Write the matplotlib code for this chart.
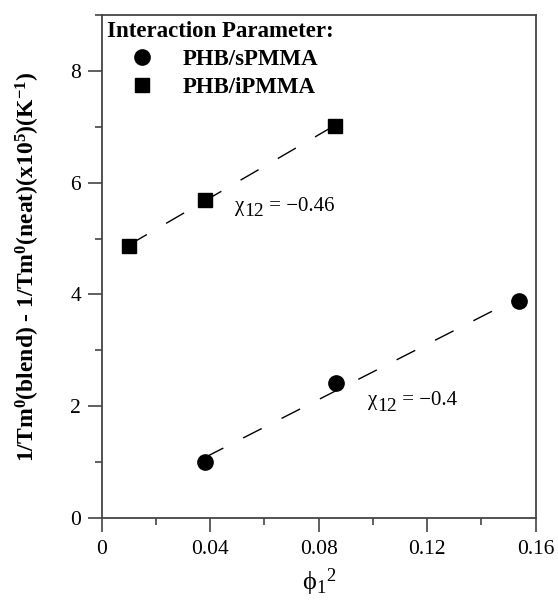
import numpy as np
import matplotlib
matplotlib.use("Agg")
import matplotlib.pyplot as plt
from matplotlib.ticker import MultipleLocator

plt.rcParams['font.family'] = ['Liberation Serif', 'DejaVu Serif']
plt.rcParams['mathtext.default'] = 'regular'

# phi_1^2 and melting point depression (x10^5 K^-1)
phi_s = [0.038, 0.0864, 0.154]
dT_s = [1.00, 2.42, 3.89]
phi_i = [0.010, 0.038, 0.086]
dT_i = [4.875, 5.69, 7.02]
chi_s_value = "−0.4"
chi_i_value = "−0.46"
x_ticks = [0, 0.04, 0.08, 0.12, 0.16]
x_tick_labels = ['0', '0.04', '0.08', '0.12', '0.16']
y_ticks = [0, 2, 4, 6, 8]

fig = plt.figure(figsize=(5.58, 6.01), dpi=100)
ax = fig.add_axes([0.1823, 0.1381, 0.7777, 0.8369])

ax.plot(phi_s, dT_s, 'o', color='black', ms=11, label='PHB/sPMMA', zorder=3)
ax.plot(phi_i, dT_i, 's', color='black', ms=10.5, label='PHB/iPMMA', zorder=3)

# linear fits for each blend
dash = (0, (15, 16))
for xs, ys in ((phi_s, dT_s), (phi_i, dT_i)):
    k, b = np.polyfit(xs, ys, 1)
    xx = np.array([min(xs), max(xs)])
    ax.plot(xx, k * xx + b, color='black', lw=1.0, linestyle=dash, zorder=2)


def chi_label(x, y, value, size=15):
    """Write 'chi12 = value' with a full-height, lowered subscript."""
    t1 = ax.text(x, y, "χ", fontsize=size, ha='left', va='baseline')
    t2 = ax.annotate("12", xy=(1, 0), xycoords=t1, xytext=(0.3, -3.5),
                     textcoords='offset points', fontsize=size - 1,
                     ha='left', va='bottom')
    ax.annotate(" = " + value, xy=(1, 0), xycoords=t2, xytext=(0, 3.5),
                textcoords='offset points', fontsize=size,
                ha='left', va='bottom')


chi_label(0.049, 5.5, chi_i_value)
chi_label(0.098, 2.02, chi_s_value)

ax.set_xlim(0, 0.16)
ax.set_ylim(0, 9)
ax.set_xticks(x_ticks)
ax.set_xticklabels(x_tick_labels)
ax.xaxis.set_minor_locator(MultipleLocator(0.02))
ax.set_yticks(y_ticks)
ax.yaxis.set_minor_locator(MultipleLocator(1))

ax.tick_params(which='major', direction='out', length=10, width=1.2,
               color='#444444', labelsize=15.5)
ax.tick_params(which='minor', direction='out', length=5, width=1.2,
               color='#444444')
ax.tick_params(axis='x', pad=6)
ax.tick_params(axis='y', pad=5)
for s in ax.spines.values():
    s.set_linewidth(1.3)
    s.set_color('#444444')

ax.set_xlabel("ϕ$_1$$^2$", fontsize=19, labelpad=5)
ax.set_ylabel("1/Tm$^0$(blend) - 1/Tm$^0$(neat)(x10$^5$)(K$^{-1}$)",
              fontsize=17, fontweight='bold', labelpad=20)

leg = ax.legend(loc='upper left', frameon=False, title='Interaction Parameter:',
                prop={'weight': 'bold', 'size': 16.5},
                title_fontproperties={'weight': 'bold', 'size': 16.5},
                alignment='left', handlelength=3.05, handletextpad=0.22,
                borderaxespad=0.0, borderpad=0.25, labelspacing=0.3)

fig.savefig('out.png', dpi=100)
